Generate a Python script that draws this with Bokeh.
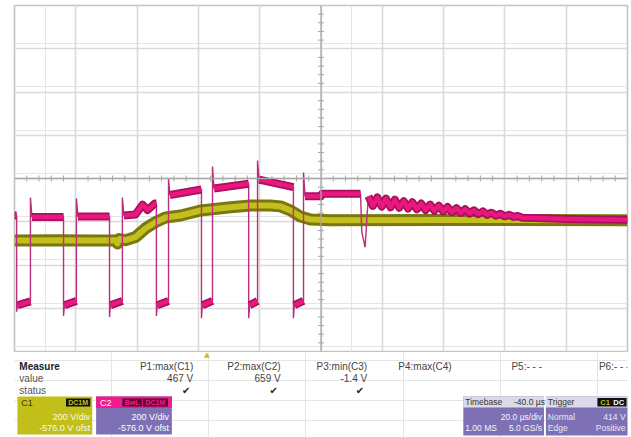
from bokeh.plotting import figure
from bokeh.models import Range1d, FixedTicker, Span, Label, Grid, PolyAnnotation
from bokeh.layouts import column
from bokeh.embed import file_html
from bokeh.resources import INLINE
from bokeh.core.properties import value

# ---------------- scope settings ----------------
T_START, T_END = -60.0, 140.0      # µs across 10 divisions (20 µs/div)
T_DIV = 20.0
V_CENTER = 576.0                   # V at screen centre (-576 V offset)
V_DIV = 200.0                      # 200 V/div
TRIGGER_T = 0.0
TRIGGER_LEVEL = 414.0

# ---------------- C1 (yellow) ----------------
c1_t = [-60, -45, -35, -27.0, -26.4, -25.8, -23.8, -20.5, -17.3, -14.0, -10.7, -5.8, 0.7,
        10.5, 17.0, 23.5, 26.8, 30.1, 33.3, 36.6, 43.1, 80, 140]
c1_v = [289, 291, 289, 290, 276, 296, 291, 305, 345, 374, 396, 405, 428,
        443, 451, 451, 447, 428, 400, 386, 383, 384, 383]

# ---------------- C2 (magenta) ----------------
c2_fall_t = [-59.3, -44.0, -29.0, -13.7, 1.0, 16.4, 31.0]
c2_fall_undershoot = [-40, -60, -65, -60, -70, -70, -70]
c2_low_start = [-10, -10, -10, -10, -10, -10, -10]
c2_low_end = [8, 10, 10, 10, 10, 10, 10]
c2_rise_t = [-54.8, -39.8, -24.8, -9.75, 4.6, 19.3, 34.3]
c2_rise_spike = [488, 484, 488, 576, 631, 659, 604]
c2_high_t = [[-60, -59.3], [-54.3, -44.0], [-39.3, -29.0],
             [-24.3, -20.5, -18.2, -16.6, -14.2, -13.7],
             [-9.3, 1.0], [5.1, 16.4], [19.8, 31.0], [34.8, 40.0, 40.3, 52.9]]
c2_high_v = [[405, 405], [398, 398], [400, 400],
             [405, 410, 455, 430, 460, 460],
             [500, 525], [530, 552], [571, 536], [494, 494, 505, 505]]
c2_dip_t = [53.3, 54.4, 55.0]
c2_dip_v = [330, 258, 400]
c2_ring_t = [55.5, 56.9, 58.4, 59.8, 61.2, 62.7, 64.1, 65.5, 67.0, 68.4, 69.8, 71.3, 72.7,
             74.1, 75.6, 77.0, 78.4, 79.9, 81.3, 82.7, 84.2, 85.6, 87.0, 88.5, 89.9, 91.3,
             92.8, 94.2, 95.6, 97.1, 98.5, 99.9, 101.4, 102.8, 104.2, 105.7, 110, 120, 130, 140]
c2_ring_v = [494, 449, 488, 446, 483, 443, 478, 441, 471, 437, 466, 434, 460,
             430, 455, 427, 450, 424, 444, 420, 439, 417, 434, 414, 429, 411,
             424, 408, 418, 404, 413, 401, 408, 398, 403, 395, 393, 389, 386, 385]

# ---------------- panel texts ----------------
row_labels = ["Measure", "value", "status"]
meas_names = ["P1:max(C1)", "P2:max(C2)", "P3:min(C3)", "P4:max(C4)", "P5:- - -", "P6:- - -"]
meas_values = ["467 V", "659 V", "-1.4 V", "", "", ""]
meas_status = ["\u2714", "\u2714", "\u2714", "", "", ""]
c1_info = ["C1", "DC1M", "200 V/div", "-576.0 V ofst"]
c2_info = ["C2", "BwL", "DC1M", "200 V/div", "-576.0 V ofst"]
tb_info = ["Timebase", "-40.0 \u00b5s", "20.0 \u00b5s/div", "1.00 MS", "5.0 GS/s"]
trig_info = ["Trigger", "C1", "DC", "Normal", "414 V", "Edge", "Positive"]

FONT_NAME = "Liberation Sans"
FONT = value(FONT_NAME)
W = 631
H_TOP = 352
H_BOT = 85
FRAME_L, FRAME_R = 14, 627

# ================= waveform figure =================
p = figure(width=W, height=H_TOP,
           x_range=Range1d(T_START, T_END),
           y_range=Range1d(V_CENTER - 4 * V_DIV, V_CENTER + 4 * V_DIV),
           x_axis_location=None, y_axis_location=None,
           output_backend="svg", toolbar_location=None,
           min_border_left=FRAME_L, min_border_right=W - FRAME_R,
           min_border_top=5, min_border_bottom=1)
p.background_fill_color = "white"
p.border_fill_color = "white"
p.outline_line_color = "#c4c4c4"
p.outline_line_width = 1.6

xt = [T_START + k * T_DIV for k in range(1, 10)]
yt = [V_CENTER + k * V_DIV for k in range(-3, 4)]
p.add_layout(Grid(dimension=0, ticker=FixedTicker(ticks=xt),
                  grid_line_color="#dadada", grid_line_width=1.6))
p.add_layout(Grid(dimension=1, ticker=FixedTicker(ticks=yt),
                  grid_line_color="#dadada", grid_line_width=1.6))

t_mid = (T_START + T_END) / 2
p.add_layout(Span(location=t_mid, dimension="height", line_color="#a8a8a8", line_width=1.3))
p.add_layout(Span(location=V_CENTER, dimension="width", line_color="#a8a8a8", line_width=1.3))

# minor ticks on centre lines
mt = [T_START + k * T_DIV / 5 for k in range(1, 50) if k % 5]
p.segment(x0=mt, x1=mt, y0=[V_CENTER - 14] * len(mt), y1=[V_CENTER + 14] * len(mt),
          line_color="#a8a8a8", line_width=1)
mv = [V_CENTER - 4 * V_DIV + k * V_DIV / 5 for k in range(1, 40) if k % 5]
p.segment(x0=[t_mid - 1.0] * len(mv), x1=[t_mid + 1.0] * len(mv), y0=mv, y1=mv,
          line_color="#a8a8a8", line_width=1)

# C1 trace
p.line(c1_t, c1_v, line_color="#7a780c", line_width=12, line_join="round")
p.line(c1_t, c1_v, line_color="#c2bf1e", line_width=6, line_join="round")

# C2 trace
path_t, path_v = [], []
plate_xs, plate_ys = [], []
for i in range(len(c2_high_t)):
    path_t += c2_high_t[i]
    path_v += c2_high_v[i]
    plate_xs.append(c2_high_t[i])
    plate_ys.append(c2_high_v[i])
    if i < len(c2_fall_t):
        ft, rt = c2_fall_t[i], c2_rise_t[i]
        lt = [ft + 0.3, rt]
        lv = [c2_low_start[i], c2_low_end[i]]
        path_t += [ft] + lt + [rt]
        path_v += [c2_fall_undershoot[i]] + lv + [c2_rise_spike[i]]
        plate_xs.append(lt)
        plate_ys.append(lv)
path_t += c2_dip_t + c2_ring_t
path_v += c2_dip_v + c2_ring_v
plate_xs.append(c2_ring_t)
plate_ys.append(c2_ring_v)

p.line(path_t, path_v, line_color="#b8307a", line_width=1.4)
p.multi_line(plate_xs, plate_ys, line_color="#a8105c", line_width=8, line_join="round")
p.multi_line(plate_xs, plate_ys, line_color="#e8187f", line_width=4.5, line_join="round")

# C2 ground marker and trigger-level marker
p.add_layout(Label(x=T_START, y=0, text="C2", text_align="right", text_baseline="bottom",
                   x_offset=-1, y_offset=2, text_font=FONT_NAME, text_font_size="7px",
                   text_color="#b8a810"))
p.add_layout(PolyAnnotation(xs=[T_END + 0.3, T_END + 1.5, T_END + 1.5],
                            ys=[TRIGGER_LEVEL, TRIGGER_LEVEL + 14, TRIGGER_LEVEL - 14],
                            fill_color="#c2bf1a", fill_alpha=1.0, line_color=None))

# ================= info panel =================
b = figure(width=W, height=H_BOT, x_range=Range1d(0, W), y_range=Range1d(437, 352),
           x_axis_location=None, y_axis_location=None,
           output_backend="svg", toolbar_location=None, min_border=0)
b.outline_line_color = None
b.background_fill_color = "white"
b.border_fill_color = "white"

# trigger time marker
trig_x = FRAME_L + (TRIGGER_T - T_START) / (T_END - T_START) * (FRAME_R - FRAME_L)
b.scatter([trig_x], [355.5], marker="triangle", size=6, fill_color="#c2bf1a", line_color=None)

def txt(xs, ys, texts, align="left", color="#333333", size="10px", style="normal", font=FONT):
    b.text(x=xs, y=ys, text=texts, text_align=align, text_baseline="middle",
           text_color=color, text_font_size=size, text_font_style=style, text_font=font)

txt([5], [365.5], [row_labels[0]], color="#222222", style="bold")
txt([5, 5], [378, 390], row_labels[1:], color="#555555")
col_x = [184, 274, 363, 450, 543, 633]
txt(col_x, [365.5] * 6, meas_names, align="right", color="#444444")
txt(col_x, [378] * 6, meas_values, align="right", color="#444444")
txt([c - 3 for c in col_x], [390] * 6, meas_status, align="right", color="#222222",
    size="10px", font=value("DejaVu Sans"))

PURPLE = "#7e70b4"
# C1 box
b.quad(left=[3], right=[80], top=[396], bottom=[434], fill_color="#c2bf1a", line_color=None)
b.quad(left=[53], right=[78], top=[398], bottom=[406], fill_color="#111111", line_color=None)
txt([7], [402], [c1_info[0]], color="#3a3a10", size="9px")
txt([65.5], [402], [c1_info[1]], align="center", color="#c2bf1a", size="7px", style="bold")
txt([78, 78], [416, 427.5], c1_info[2:], align="right", color="#fbfbe4", size="9px")

# C2 box
b.quad(left=[84], right=[162], top=[396], bottom=[434], fill_color=PURPLE, line_color=None)
b.quad(left=[84], right=[162], top=[396], bottom=[407.5], fill_color="#f21a8c", line_color=None)
b.quad(left=[111, 132], right=[131, 158], top=[398, 398], bottom=[406, 406],
       fill_color="#5a0a33", line_color=None)
txt([88], [402], [c2_info[0]], color="#ffffff", size="9px")
txt([121, 145], [402, 402], c2_info[1:3], align="center", color="#f21a8c", size="7px", style="bold")
txt([159, 159], [416, 427.5], c2_info[3:], align="right", color="#ffffff", size="9px")

# Timebase box
b.quad(left=[462], right=[545], top=[396], bottom=[435], fill_color=PURPLE, line_color=None)
b.quad(left=[462], right=[545], top=[396], bottom=[407], fill_color="#dcdae8", line_color=None)
txt([464], [401.5], [tb_info[0]], color="#333333", size="8.5px")
txt([546], [401.5], [tb_info[1]], align="right", color="#333333", size="8.5px")
txt([543], [416], [tb_info[2]], align="right", color="#f4f4ff", size="8.5px")
txt([464], [427.5], [tb_info[3]], color="#f4f4ff", size="8.5px")
txt([543], [427.5], [tb_info[4]], align="right", color="#f4f4ff", size="8.5px")

# Trigger box
b.quad(left=[547], right=[632], top=[396], bottom=[435], fill_color=PURPLE, line_color=None)
b.quad(left=[547], right=[632], top=[396], bottom=[407], fill_color="#dcdae8", line_color=None)
b.quad(left=[600], right=[630], top=[397.5], bottom=[406], fill_color="#111111", line_color=None)
txt([549], [401.5], [trig_info[0]], color="#333333", size="8.5px")
txt([608], [402], [trig_info[1]], align="center", color="#c2bf1a", size="7.5px", style="bold")
txt([622], [402], [trig_info[2]], align="center", color="#ffffff", size="7.5px", style="bold")
txt([549, 549], [416, 427.5], [trig_info[3], trig_info[5]], color="#e8e8f4", size="8.5px")
txt([629, 629], [416, 427.5], [trig_info[4], trig_info[6]], align="right", color="#e8e8f4", size="8.5px")

layout = column(p, b, spacing=0)
open("out.html", "w").write(file_html(layout, INLINE))
